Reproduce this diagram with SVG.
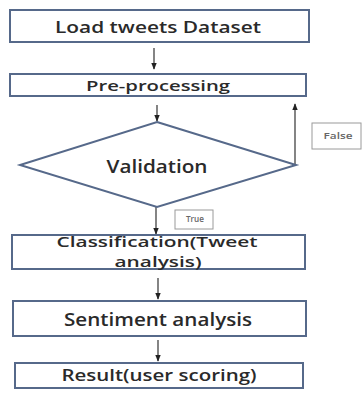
<svg xmlns="http://www.w3.org/2000/svg" width="364" height="394" viewBox="0 0 364 394">
<defs>
<style>
.box{fill:#ffffff;stroke:#56698a;stroke-width:2}
.lbl{fill:#ffffff;stroke:#9a9a9a;stroke-width:1}
.t{font-family:"Open Sans","Noto Sans","DejaVu Sans",sans-serif;fill:#2a2a2a;text-anchor:middle;font-weight:600}
.s{font-family:"Open Sans","Noto Sans","DejaVu Sans",sans-serif;fill:#666666;text-anchor:middle;font-size:8px;font-weight:600}
.c{stroke:#333333;stroke-width:1.2;fill:none}
</style>
<marker id="ah" viewBox="0 0 10 10" refX="9" refY="5" markerWidth="6" markerHeight="6" orient="auto">
<path d="M0,1 L10,5 L0,9 z" fill="#222222"/>
</marker>
</defs>
<rect width="364" height="394" fill="#ffffff"/>
<g id="connectors">
<line class="c" x1="154" y1="48" x2="154" y2="69" marker-end="url(#ah)"/>
<line class="c" x1="157" y1="105" x2="157" y2="121" marker-end="url(#ah)"/>
<polyline class="c" points="295,165 295,104" marker-end="url(#ah)"/>
<line class="c" x1="156" y1="207" x2="156" y2="234" marker-end="url(#ah)"/>
<line class="c" x1="158" y1="278" x2="158" y2="299" marker-end="url(#ah)"/>
<line class="c" x1="158" y1="340" x2="158" y2="361" marker-end="url(#ah)"/>
</g>
<g id="load">
<rect class="box" x="10" y="10" width="299" height="32"/>
<text class="t" x="158" y="33" font-size="17" textLength="206" lengthAdjust="spacingAndGlyphs">Load tweets Dataset</text>
</g>
<g id="preprocessing">
<rect class="box" x="10" y="74" width="296" height="22"/>
<text class="t" x="158" y="91" font-size="15" textLength="144" lengthAdjust="spacingAndGlyphs">Pre-processing</text>
</g>
<g id="validation">
<polygon class="box" points="157,122 296,165 157,207 20,165"/>
<text class="t" x="157" y="173" font-size="18" textLength="101" lengthAdjust="spacingAndGlyphs">Validation</text>
</g>
<g id="false-label">
<rect class="lbl" x="312" y="123" width="49" height="26"/>
<text class="s" x="338" y="139" textLength="29" lengthAdjust="spacingAndGlyphs">False</text>
</g>
<g id="true-label">
<rect class="lbl" x="175" y="210" width="38" height="19"/>
<text class="s" x="195" y="222" textLength="18" lengthAdjust="spacingAndGlyphs">True</text>
</g>
<g id="classification">
<rect class="box" x="12" y="235" width="293" height="34"/>
<text class="t" x="157" y="247" font-size="14.5" textLength="201" lengthAdjust="spacingAndGlyphs">Classification(Tweet</text>
<text class="t" x="158" y="267" font-size="14.5" textLength="87" lengthAdjust="spacingAndGlyphs">analysis)</text>
</g>
<g id="sentiment">
<rect class="box" x="13" y="301" width="293" height="35"/>
<text class="t" x="158" y="326" font-size="18" textLength="188" lengthAdjust="spacingAndGlyphs">Sentiment analysis</text>
</g>
<g id="result">
<rect class="box" x="15" y="363" width="288" height="25"/>
<text class="t" x="159" y="381" font-size="17" textLength="195" lengthAdjust="spacingAndGlyphs">Result(user scoring)</text>
</g>
</svg>
